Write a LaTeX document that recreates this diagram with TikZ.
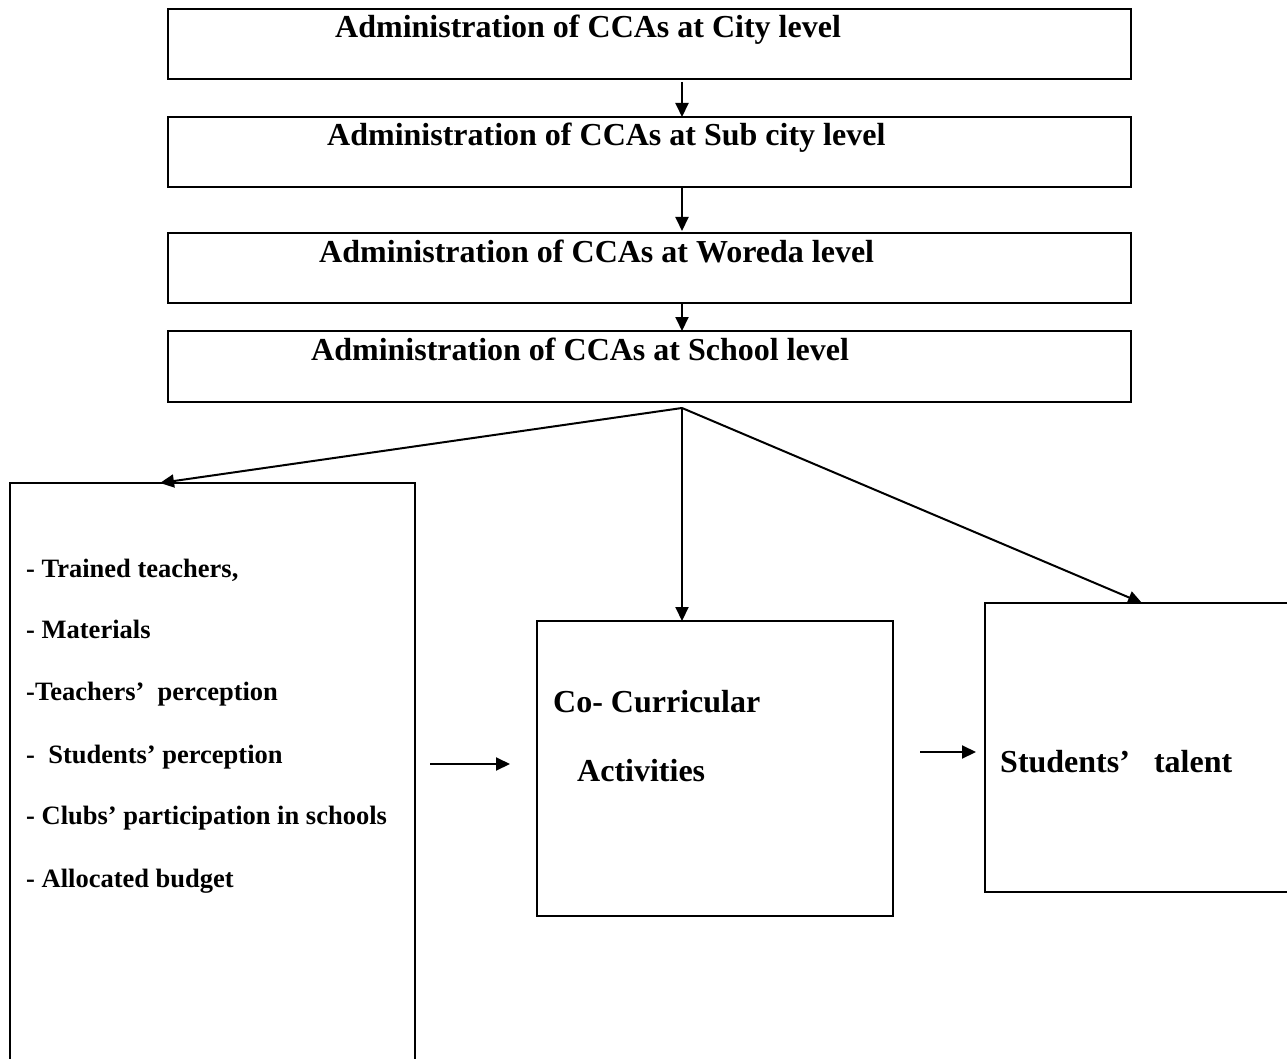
\documentclass[tikz,border=0pt]{standalone}
\usepackage{fontspec}
\setmainfont{Liberation Serif}
\usetikzlibrary{arrows.meta}
\begin{document}
\begin{tikzpicture}[x=1pt,y=-1pt,
  box/.style={draw, line width=2.5pt, inner sep=0pt, outer sep=0pt, anchor=north west},
  arr/.style={line width=2pt, -{Triangle[length=14pt,width=13pt]}},
  big/.style={font=\fontsize{32}{36}\selectfont\bfseries, inner sep=0pt, anchor=base west},
  lst/.style={font=\fontsize{26.5}{30}\selectfont\bfseries, inner sep=0pt, anchor=base west}]
\useasboundingbox (0,0) rectangle (1287,1059);
\clip (0,0) rectangle (1287,1059);
\fill[white] (0,0) rectangle (1287,1059);
% top boxes
\node[box, minimum width=963pt, minimum height=70pt] (b1) at (168,9) {};
\node[box, minimum width=963pt, minimum height=70pt] (b2) at (168,117) {};
\node[box, minimum width=963pt, minimum height=70pt] (b3) at (168,233) {};
\node[box, minimum width=963pt, minimum height=71pt] (b4) at (168,331) {};
\node[big] (t1) at (335,38) {Administration of CCAs at City level};
\node[big] (t2) at (327,146) {Administration of CCAs at Sub city level};
\node[big] (t3) at (319,262) {Administration of CCAs at Woreda level};
\node[big] (t4) at (311,360) {Administration of CCAs at School level};
% lower boxes
\node[box, minimum width=405pt, minimum height=620pt] (lb) at (10,483) {};
\node[box, minimum width=356pt, minimum height=295pt] (cca) at (537,621) {};
\node[box, minimum width=330pt, minimum height=289pt] (tal) at (985,603) {};
% list
\node[lst] (l1) at (26,577) {- Trained teachers,};
\node[lst] (l2) at (26,638) {- Materials};
\node[lst] (l3) at (26,700) {-Teachers’\ \ perception};
\node[lst] (l4) at (26,763) {-\ \ Students’ perception};
\node[lst] (l5) at (26,824) {- Clubs’ participation in schools};
\node[lst] (l6) at (26,887) {- Allocated budget};
% CCA and talent texts
\node[big] (c1) at (553,712) {Co- Curricular};
\node[big] (c2) at (577,781) {Activities};
\node[big] (s1) at (1000,772) {Students’\ \ \ talent};
% connector coordinates
\coordinate (ax) at (682,0);
\coordinate (lx) at (160,0);
\coordinate (tx) at (1142,0);
\coordinate (fan) at (682,408);
\coordinate (h1s) at (430,764);
\coordinate (h1e) at (510,764);
\coordinate (h2s) at (920,752);
\coordinate (h2e) at (976,752);
% arrows
\draw[arr] ([yshift=-3pt]b1.south -| ax) -- (b2.north -| ax);
\draw[arr] (b2.south -| ax) -- ([yshift=2pt]b3.north -| ax);
\draw[arr] (b3.south -| ax) -- (b4.north -| ax);
\draw[arr] (fan) -- (lb.north -| lx);
\draw[arr] (fan) -- (cca.north -| ax);
\draw[arr] (fan) -- (tal.north -| tx);
\draw[arr] (h1s) -- (h1e);
\draw[arr] (h2s) -- (h2e);
\end{tikzpicture}
\end{document}
